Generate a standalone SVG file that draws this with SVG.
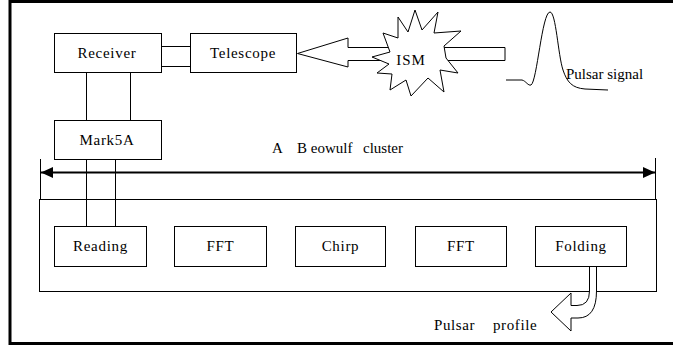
<svg xmlns="http://www.w3.org/2000/svg" width="673" height="348" viewBox="0 0 673 348">
  <style>
    .box { fill: #fff; stroke: #000; stroke-width: 1; }
    .ln { fill: none; stroke: #000; stroke-width: 1; }
    text { font-family: "Liberation Serif", "DejaVu Serif", "Times New Roman", Times, serif; font-size: 15px; fill: #000; }
    .lbl { text-anchor: middle; letter-spacing: 0.7px; }
  </style>
  <defs>
    <marker id="head" viewBox="0 0 12 11" refX="12" refY="5.5" markerWidth="12" markerHeight="11" markerUnits="userSpaceOnUse" orient="auto-start-reverse">
      <path d="M0,0 L12,5.5 L0,11 Z" fill="#000"/>
    </marker>
  </defs>

  <rect width="673" height="348" fill="#fff"/>
  <!-- outer frame (right edge lies outside the canvas) -->
  <rect x="10" y="1.5" width="680" height="342" fill="none" stroke="#000" stroke-width="3"/>

  <!-- cluster enclosure -->
  <g id="cluster">
    <rect class="box" x="39.5" y="199.5" width="617" height="92"/>
    <line class="ln" x1="40.5" y1="159" x2="40.5" y2="199"/>
    <line class="ln" x1="655.5" y1="158" x2="655.5" y2="199"/>
  </g>

  <g id="connectors">
    <!-- Receiver to Telescope -->
    <line class="ln" x1="161" y1="46.5" x2="190" y2="46.5"/>
    <line class="ln" x1="161" y1="66.5" x2="190" y2="66.5"/>
    <!-- Receiver to Mark5A -->
    <line class="ln" x1="86.5" y1="72" x2="86.5" y2="120"/>
    <line class="ln" x1="130.5" y1="72" x2="130.5" y2="120"/>
    <!-- Mark5A to Reading -->
    <line class="ln" x1="86.5" y1="159" x2="86.5" y2="226"/>
    <line class="ln" x1="115.5" y1="159" x2="115.5" y2="226"/>
    <!-- cluster span -->
    <line x1="41" y1="172.5" x2="655" y2="172.5" stroke="#000" stroke-width="2.2" marker-start="url(#head)" marker-end="url(#head)"/>
    <!-- wide arrow from the ISM to the telescope -->
    <polygon class="box" points="505,47.5 348,47.5 348,38 297.5,53.5 348,67 348,60.5 505,60.5"/>
    <!-- bent output arrow from Folding -->
    <path class="box" d="M589.5,266 L589.5,291 Q589.5,305.5 577,305.5 L571,305.5 L571,293 L551,312 L571,331 L571,318 L578,318 Q596.5,318 596.5,291 L596.5,266"/>
  </g>

  <g id="receiver">
    <rect class="box" x="54.5" y="33.5" width="107" height="39"/>
    <text class="lbl" x="107" y="58" font-family="Liberation Serif, serif">Receiver</text>
  </g>
  <g id="telescope">
    <rect class="box" x="190.5" y="33.5" width="106" height="39"/>
    <text class="lbl" x="243" y="58" font-family="Liberation Serif, serif">Telescope</text>
  </g>
  <g id="ism">
    <polygon class="box" points="372,57 390,52 383,33 398,38 398,17 408,32 415,10 422,30 438,12 434,33 461,31 444,46 446,58 458,73 440,70 444,92 428,78 411,96 406,80 390,90 392,74 377,73 389,64"/>
    <text x="411" y="65" text-anchor="middle" letter-spacing="1" font-family="Liberation Serif, serif">ISM</text>
  </g>
  <g id="pulsar-signal">
    <path class="ln" d="M506,80 L522,80 C526,81 528,86 531,85 C537,82 542,12 550,12 C556,12 558,55 563,70 C567,82 572,88 585,89 L608,90"/>
    <text x="566" y="79" font-size="16" font-family="Liberation Serif, serif">Pulsar signal</text>
  </g>
  <g id="mark5a">
    <rect class="box" x="54.5" y="120.5" width="107" height="39"/>
    <text class="lbl" x="107" y="145" font-family="Liberation Serif, serif">Mark5A</text>
  </g>
  <g id="cluster-label" font-family="Liberation Serif, serif">
    <text x="272" y="153">A</text>
    <text x="297" y="153">B eowulf</text>
    <text x="363" y="153">cluster</text>
  </g>
  <g id="reading">
    <rect class="box" x="54.5" y="226.5" width="92" height="40"/>
    <text class="lbl" x="100.5" y="251">Reading</text>
  </g>
  <g id="fft1">
    <rect class="box" x="174.5" y="226.5" width="92" height="40"/>
    <text class="lbl" x="220.5" y="251">FFT</text>
  </g>
  <g id="chirp">
    <rect class="box" x="295.5" y="226.5" width="90" height="40"/>
    <text class="lbl" x="340.5" y="251">Chirp</text>
  </g>
  <g id="fft2">
    <rect class="box" x="415.5" y="226.5" width="91" height="40"/>
    <text class="lbl" x="461" y="251">FFT</text>
  </g>
  <g id="folding">
    <rect class="box" x="535.5" y="226.5" width="91" height="40"/>
    <text class="lbl" x="581" y="251">Folding</text>
  </g>
  <g id="pulsar-profile">
    <text x="434" y="330" letter-spacing="0.6">Pulsar</text>
    <text x="493" y="330" letter-spacing="0.6">profile</text>
  </g>
</svg>
